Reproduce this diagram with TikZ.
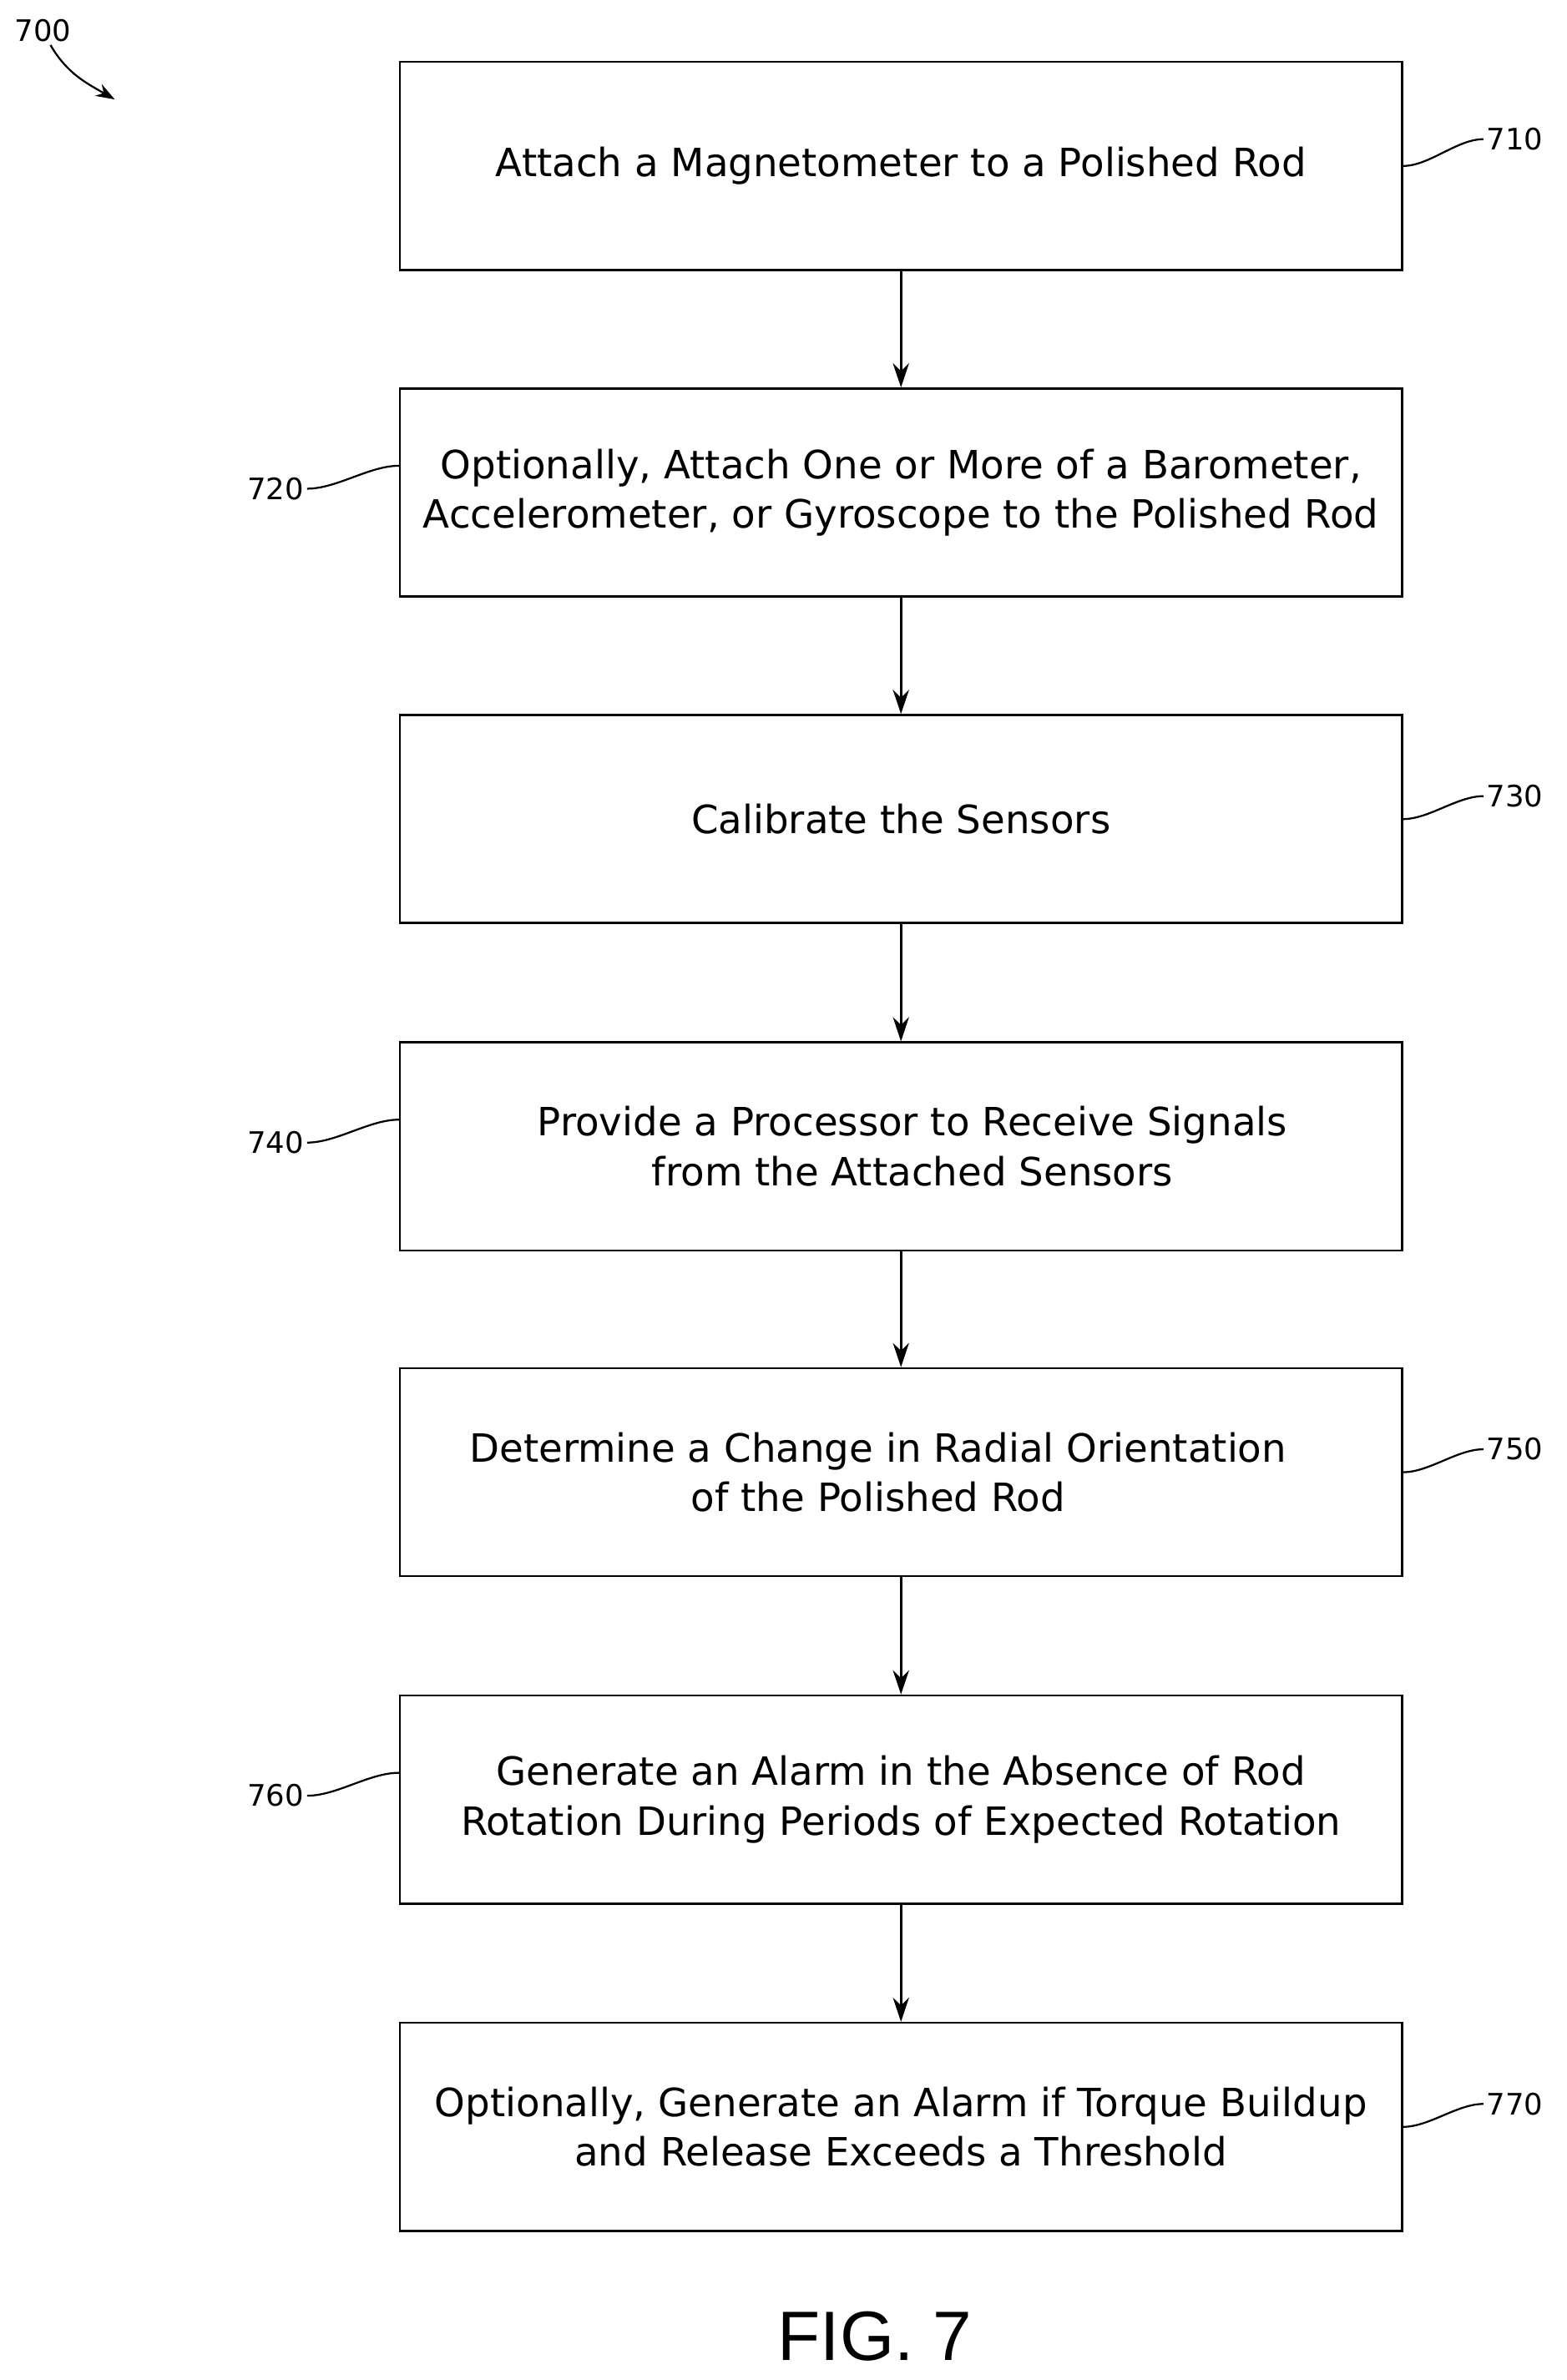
\documentclass[tikz,border=0pt]{standalone}
\usepackage{fontspec}
\setmainfont{DejaVu Sans}
\newfontfamily\figfont{Liberation Sans}
\usetikzlibrary{arrows.meta, positioning}
\tikzstyle{stepbox}=[rectangle, draw=black, line width=0.8pt, minimum width=13.1cm, minimum height=2.72cm, align=center, font=\fontsize{14.5}{18.5}\selectfont, inner sep=0pt]
\tikzstyle{ref}=[font=\fontsize{11}{13}\selectfont, inner sep=1pt]
\tikzstyle{flow}=[-{Stealth[length=9pt,width=6pt]}, line width=0.8pt]
\tikzstyle{lead}=[line width=0.7pt]

\begin{document}
\begin{tikzpicture}
  \useasboundingbox (0,0) rectangle (20.48,-31.12);
      \node[stepbox] (s710) at (11.78,-2.17) {Attach a Magnetometer to a Polished Rod};
      \node[stepbox] (s720) at (11.78,-6.44) {Optionally, Attach One or More of a Barometer,\\Accelerometer, or Gyroscope to the Polished Rod};
      \node[stepbox] (s730) at (11.78,-10.71) {Calibrate the Sensors};
      \node[stepbox] (s740) at (11.78,-14.99) {\hspace*{0.3cm}Provide a Processor to Receive Signals\\\hspace*{0.3cm}from the Attached Sensors};
      \node[stepbox] (s750) at (11.78,-19.25) {Determine a Change in Radial Orientation\hspace*{0.6cm}\\of the Polished Rod\hspace*{0.6cm}};
      \node[stepbox] (s760) at (11.78,-23.53) {Generate an Alarm in the Absence of Rod\\Rotation During Periods of Expected Rotation};
      \node[stepbox] (s770) at (11.78,-27.81) {Optionally, Generate an Alarm if Torque Buildup\\and Release Exceeds a Threshold};

      \foreach \a/\b in {s710/s720, s720/s730, s730/s740, s740/s750, s750/s760, s760/s770}
        \draw[flow] (\a) -- (\b);

      % reference numerals on the right
      \foreach \s/\n/\dy in {s710/710/0.35, s730/730/0.3, s750/750/0.3, s770/770/0.3}{
        \node[ref, anchor=west] (l\n) at ([xshift=1.05cm, yshift=\dy cm]\s.east) {\n};
        \draw[lead] ([yshift=0cm]\s.east) to[out=0, in=180, looseness=0.8] (l\n.west);
      }
      % reference numerals on the left
      \foreach \s/\n in {s720/720, s740/740, s760/760}{
        \node[ref, anchor=east] (l\n) at ([xshift=-1.2cm, yshift=0.05cm]\s.west) {\n};
        \draw[lead] (l\n.east) to[out=0, in=180, looseness=0.8] ([yshift=0.35cm]\s.west);
      }

      \node[ref] (l700) at (0.56,-0.4) {700};
      \coordinate (a700) at (1.5,-1.3);
      \draw[lead, -{Stealth[length=7pt,width=5pt]}] ([xshift=0.1cm]l700.south) to[out=-60, in=150] (a700);

      \node[font=\figfont\fontsize{26}{28}\selectfont] (fig) at (11.44,-30.55) {FIG. 7};
\end{tikzpicture}
\end{document}
